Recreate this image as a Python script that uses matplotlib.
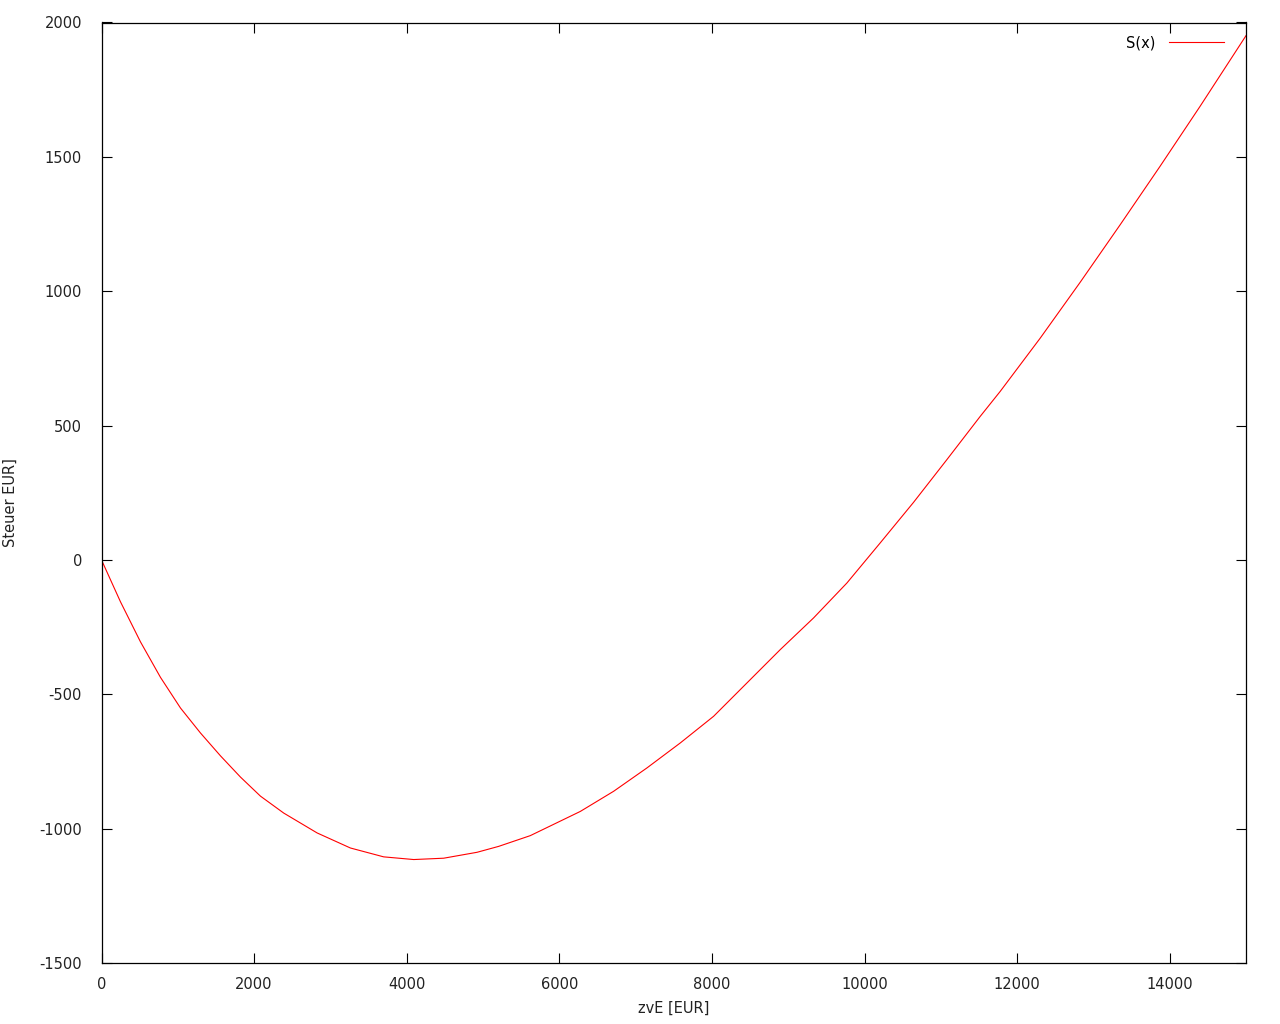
import matplotlib
matplotlib.use("Agg")
import matplotlib.pyplot as plt

# zvE [EUR] vs Steuer
zve = [0, 249, 511, 773, 1035, 1297, 1559, 1821, 2083, 2388, 2826, 3262,
       3698, 4092, 4485, 4922, 5205, 5620, 6275, 6712, 7149, 7586, 8022,
       8895, 9332, 9769, 10205, 10642, 11079, 11516, 11778, 12302, 12826,
       13350, 13874, 14398, 15000]
steuer = [0, -156, -305, -437, -551, -644, -729, -808, -879, -942, -1016, -1072,
          -1105, -1115, -1110, -1088, -1066, -1026, -936, -861, -774, -681, -582,
          -334, -216, -86, 63, 214, 373, 534, 627, 825, 1033,
          1247, 1465, 1688, 1951]

x_ticks = [0, 2000, 4000, 6000, 8000, 10000, 12000, 14000]
y_ticks = [-1500, -1000, -500, 0, 500, 1000, 1500, 2000]

plt.rcParams['font.family'] = ['DejaVu Sans']
plt.rcParams['font.size'] = 10.5
plt.rcParams['axes.unicode_minus'] = False

fig = plt.figure(figsize=(12.8, 10.24), dpi=100)
ax = fig.add_axes([101.5 / 1280, 1 - 963 / 1024, 1144.5 / 1280, 940.5 / 1024])

ax.plot(zve, steuer, color='red', linewidth=0.8, label='S(x)')

ax.set_xlim(0, 15000)
ax.set_ylim(-1500, 2000)
ax.set_xticks(x_ticks)
ax.set_yticks(y_ticks)
ax.tick_params(direction='in', length=7.5, width=0.8, top=True, right=True,
               colors='black', labelcolor='#222222')
ax.tick_params(axis='y', pad=14)
ax.tick_params(axis='x', pad=10)
for s in ax.spines.values():
    s.set_linewidth(0.9)

ax.set_xlabel('zvE [EUR]', color='#222222')
ax.set_ylabel('Steuer EUR]', color='#222222')
ax.xaxis.set_label_coords(0.5, -0.040)
ax.yaxis.set_label_coords(-0.073, 0.49)

ax.legend(loc='upper right', frameon=False, markerfirst=False,
          handlelength=3.8, handletextpad=0.95, borderaxespad=0.4,
          bbox_to_anchor=(1 - 10 / 1145, 1 - 1 / 940))

fig.savefig('out.png', dpi=100)
